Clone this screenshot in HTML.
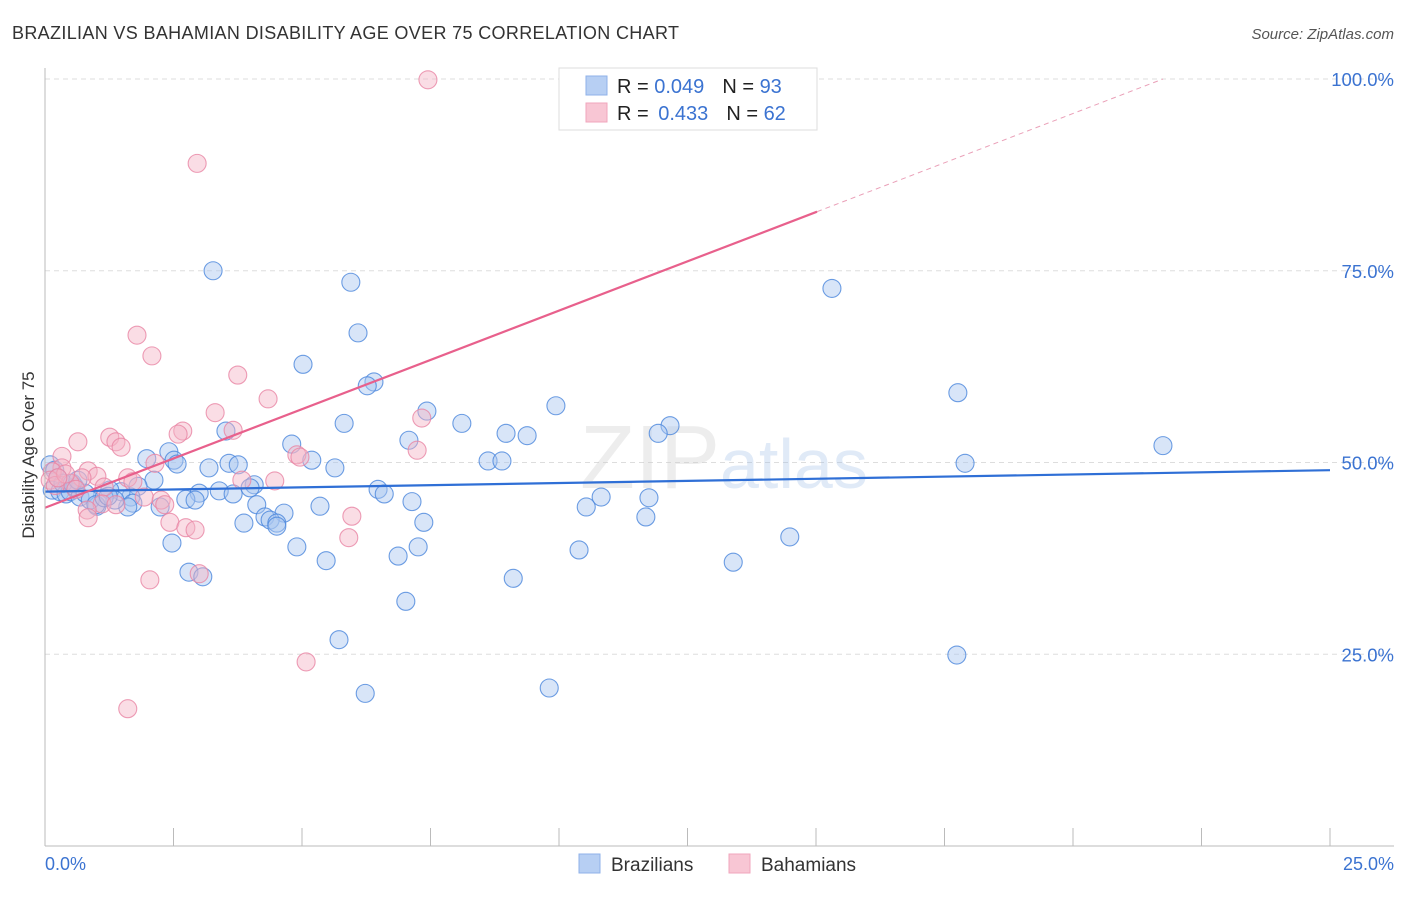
<!DOCTYPE html>
<html><head><meta charset="utf-8"><style>
body{margin:0;background:#fff;font-family:"Liberation Sans",sans-serif}
svg text{font-family:"Liberation Sans",sans-serif}
</style></head><body>
<svg width="1406" height="892">
<text x="12" y="39" font-size="18" fill="#333" textLength="667">BRAZILIAN VS BAHAMIAN DISABILITY AGE OVER 75 CORRELATION CHART</text>
<text x="1394" y="39" font-size="15" fill="#555" font-style="italic" text-anchor="end">Source: ZipAtlas.com</text>
<text x="34" y="455" font-size="17" fill="#333" text-anchor="middle" transform="rotate(-90 34 455)">Disability Age Over 75</text>
<g id="grid"></g>
<g id="ticks"></g>
<text x="720" y="488" font-size="90" fill="#ccc" opacity="0.35" text-anchor="end" font-family="Liberation Serif">ZIP</text>
<text x="720" y="488" font-size="70" fill="#9bbbe6" opacity="0.3">atlas</text>
<g id="blue"></g><g id="pink"></g><g id="lines"></g>
<line x1="45" y1="68" x2="45" y2="846" stroke="#bbb"/>
<line x1="45" y1="846" x2="1394" y2="846" stroke="#bbb"/>
<text x="45" y="870" font-size="18" fill="#3b73d1">0.0%</text>
<text x="1394" y="870" font-size="18" fill="#3b73d1" text-anchor="end">25.0%</text>
<g>
<rect x="559" y="68" width="258" height="62" fill="#fff" stroke="#ddd"/>
<rect x="586" y="76" width="21" height="19" fill="#b7cff3" stroke="#8fb2e8"/>
<rect x="586" y="103" width="21" height="19" fill="#f8c6d4" stroke="#f0a6bc"/>
<text x="617" y="93" font-size="20" fill="#222">R = <tspan fill="#3b73d1">0.049</tspan><tspan dx="18">N = </tspan><tspan fill="#3b73d1">93</tspan></text>
<text x="617" y="120" font-size="20" fill="#222">R = <tspan fill="#3b73d1" dx="4">0.433</tspan><tspan dx="18">N = </tspan><tspan fill="#3b73d1">62</tspan></text>
</g>
<g><rect x="579" y="854" width="21" height="19" fill="#b7cff3" stroke="#8fb2e8"/><text x="611" y="871" font-size="19" fill="#333">Brazilians</text></g>
<g><rect x="729" y="854" width="21" height="19" fill="#f8c6d4" stroke="#f0a6bc"/><text x="761" y="871" font-size="19" fill="#333">Bahamians</text></g>
</svg>
<script>
const yTicks=[25,50,75,100];
const yTickLabels=["25.0%","50.0%","75.0%","100.0%"];
const xTicks=[0,2.5,5,7.5,10,12.5,15,17.5,20,22.5,25];
const blueX=[3.27,5.95,15.31,6.09,5.02,6.40,6.27,17.76,9.94,7.43,5.82,8.11,12.16,3.52,11.93,8.97,9.38,7.08,4.80,21.75,2.41,1.98,2.51,5.19,8.62,8.89,3.58,17.90,3.76,2.57,3.19,5.64,2.12,4.07,3.99,1.81,3.39,3.66,3.00,6.48,6.60,10.82,11.75,2.74,2.92,1.67,1.48,1.26,1.71,7.14,5.35,4.12,2.24,1.61,1.36,1.01,10.53,4.65,4.28,4.38,4.51,11.69,7.37,3.87,4.51,14.49,2.47,4.90,7.26,10.39,6.87,5.47,13.39,2.80,3.07,9.11,7.02,5.72,17.74,6.23,9.81,0.1,0.19,0.25,0.14,0.29,0.41,0.49,0.58,0.68,0.78,0.88,0.99,0.35,0.53,0.64,1.15,1.23];
const blueY=[75.0,73.5,72.7,66.9,62.8,60.5,60.0,59.1,57.4,56.7,55.1,55.1,54.8,54.1,53.8,53.8,53.5,52.9,52.4,52.2,51.4,50.5,50.3,50.3,50.2,50.2,49.9,49.9,49.7,49.8,49.3,49.3,47.7,47.1,46.7,46.9,46.3,45.9,46.0,46.5,45.9,45.5,45.4,45.2,45.1,45.5,46.2,46.4,44.7,44.9,44.3,44.5,44.2,44.2,45.1,44.3,44.2,43.4,42.9,42.5,42.1,42.9,42.2,42.1,41.7,40.3,39.5,39.0,39.0,38.6,37.8,37.2,37.0,35.7,35.1,34.9,31.9,26.9,24.9,19.9,20.6,49.7,49.0,48.0,46.4,46.2,45.9,46.2,46.8,45.5,46.0,45.1,44.5,47.3,47.3,47.7,45.4,45.6];
const pinkX=[7.45,2.96,1.79,2.08,3.75,4.34,3.31,7.33,3.66,2.68,1.26,2.59,1.38,0.64,1.48,7.24,4.90,4.96,0.33,2.14,0.84,0.33,1.01,1.61,1.71,3.83,4.47,0.72,0.49,0.14,0.1,1.15,1.93,2.26,2.33,1.11,1.38,0.82,0.84,2.43,2.74,2.92,5.97,5.91,3.00,2.04,5.08,1.61,0.2,0.4,0.6,0.25];
const pinkY=[99.9,89.0,66.6,63.9,61.4,58.3,56.5,55.8,54.2,54.1,53.3,53.7,52.7,52.7,52.0,51.6,51.0,50.7,50.8,49.9,48.9,49.3,48.2,48.0,47.5,47.7,47.6,48.0,47.3,48.8,47.7,46.8,45.5,45.1,44.5,44.6,44.5,43.8,42.8,42.2,41.5,41.2,43.0,40.2,35.5,34.7,24.0,17.9,47.0,48.5,46.5,48.0];
const blueTrend=[46.2,0.112];
const pinkTrend=[44.1,2.57];
const X=v=>45+v*51.4, Y=v=>846-v*7.67;
const NS="http://www.w3.org/2000/svg";
function mk(t,a,p){const e=document.createElementNS(NS,t);for(const k in a)e.setAttribute(k,a[k]);p.appendChild(e);return e;}
const grid=document.getElementById('grid');
yTicks.forEach((t,i)=>{
 const l=mk('line',{x1:45,x2:1394,y1:Y(t),y2:Y(t),stroke:'#ddd','stroke-dasharray':'5,4'},grid);
 
 
 const tx=mk('text',{x:1394,y:Y(t)+7,'font-size':18.5,fill:'#3b73d1','text-anchor':'end'},grid);
 tx.textContent=yTickLabels[i];
 
 
});
const tk=document.getElementById('ticks');
xTicks.forEach(t=>{
 const l=mk('line',{x1:X(t),x2:X(t),y1:828,y2:846,stroke:'#bbb'},tk);
 
 
});
function pts(xs,ys,g,fill,stroke,name){xs.forEach((x,i)=>{
 const c=mk('circle',{cx:X(x),cy:Y(ys[i]),r:9,fill:fill,'fill-opacity':0.45,stroke:stroke,'stroke-opacity':0.8,'stroke-width':1.1},g);
 
 
});}
pts(blueX,blueY,document.getElementById('blue'),'#a9c6ef','#4a86dc','brazilian-point');
pts(pinkX,pinkY,document.getElementById('pink'),'#f5b3c6','#e884a4','bahamian-point');
const L=document.getElementById('lines');
const bl=mk('line',{x1:X(0),y1:Y(blueTrend[0]),x2:X(25),y2:Y(blueTrend[0]+25*blueTrend[1]),stroke:'#2f6fd6','stroke-width':2.2},L);


const pEnd=15.02, pMax=(100-pinkTrend[0])/pinkTrend[1];
const pl=mk('line',{x1:X(0),y1:Y(pinkTrend[0]),x2:X(pEnd),y2:Y(pinkTrend[0]+pEnd*pinkTrend[1]),stroke:'#e8608c','stroke-width':2.2},L);


const pd=mk('line',{x1:X(pEnd),y1:Y(pinkTrend[0]+pEnd*pinkTrend[1]),x2:X(pMax),y2:Y(100),stroke:'#eaa0b8','stroke-width':1,'stroke-dasharray':'5,4'},L);


</script>
</body></html>
